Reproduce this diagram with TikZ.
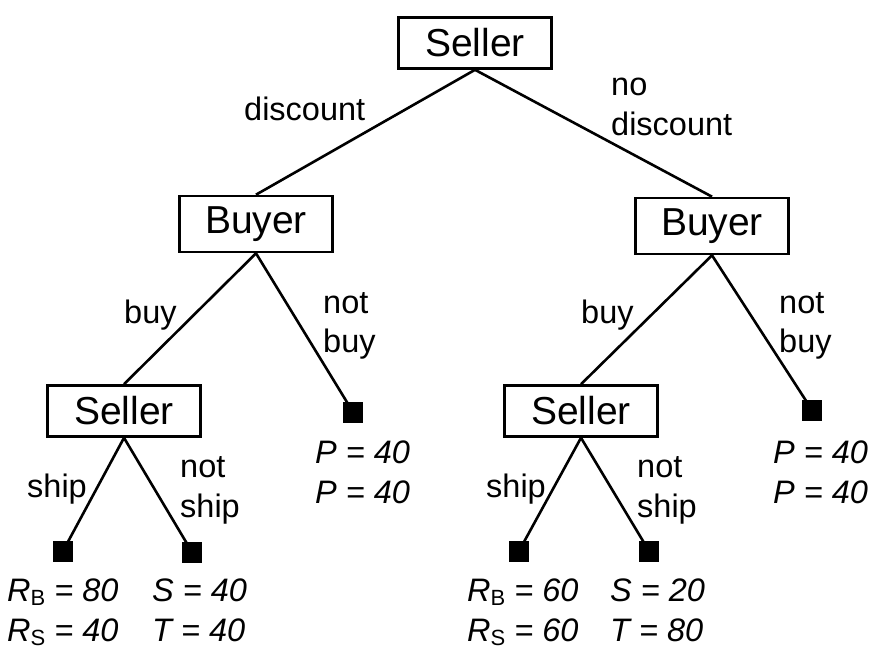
\documentclass[tikz,border=0pt]{standalone}
\usepackage{fontspec}
\setmainfont{Liberation Sans}
\newcommand\mysub[1]{{\upshape\fontsize{22}{22}\selectfont\raisebox{-4.5pt}{#1}}}
\begin{document}
\begin{tikzpicture}[x=1pt,y=-1pt,
  box/.style={draw,line width=2.6pt,minimum width=153pt,minimum height=51pt,inner sep=0pt,fill=white,font=\fontsize{39}{39}\selectfont},
  leaf/.style={fill=black,minimum width=20pt,minimum height=21pt,inner sep=0pt},
  lab/.style={font=\fontsize{32.5}{40}\selectfont,inner sep=0pt,anchor=base west},
  pay/.style={font=\fontsize{32.5}{41}\selectfont\itshape,inner sep=0pt,anchor=base west},
  edge/.style={line width=2.6pt}]
\useasboundingbox (0,0) rectangle (872,651);
% decision nodes
\node[box] (s0) at (475,43) {Seller};
\node[box,minimum height=56pt] (b1) at (256,224) {Buyer};
\node[box,minimum height=56pt] (b2) at (712,226) {Buyer};
\node[box] (s1) at (124,411) {Seller};
\node[box] (s2) at (581,411) {Seller};
% leaf positions
\coordinate (l1) at (63,551);
\coordinate (l2) at (192,552);
\coordinate (l3) at (353,412);
\coordinate (l4) at (519,551);
\coordinate (l5) at (649,551);
\coordinate (l6) at (812,410);
% edges
\draw[edge] (s0.south) -- (b1.north);
\draw[edge] (s0.south) -- (b2.north);
\draw[edge] (b1.south) -- (s1.north);
\draw[edge] (b1.south) -- (l3);
\draw[edge] (b2.south) -- (s2.north);
\draw[edge] (b2.south) -- (l6);
\draw[edge] (s1.south) -- (l1);
\draw[edge] (s1.south) -- (l2);
\draw[edge] (s2.south) -- (l4);
\draw[edge] (s2.south) -- (l5);
% leaves on top
\foreach \n in {l1,l2,l3,l4,l5,l6}
  \node[leaf] (\n box) at (\n) {};
% edge labels
\node[lab] (t1) at (244,120) {discount};
\node[lab] (t2a) at (611,95) {no};
\node[lab] (t2b) at (611,135) {discount};
\node[lab] (t3) at (124,323) {buy};
\node[lab] (t4a) at (323,313) {not};
\node[lab] (t4b) at (323,352) {buy};
\node[lab] (t5) at (581,323) {buy};
\node[lab] (t6a) at (779,313) {not};
\node[lab] (t6b) at (779,352) {buy};
\node[lab] (t7) at (27,497) {ship};
\node[lab] (t8a) at (180,477) {not};
\node[lab] (t8b) at (180,517) {ship};
\node[lab] (t9) at (486,497) {ship};
\node[lab] (t10a) at (637,477) {not};
\node[lab] (t10b) at (637,517) {ship};
% payoffs
\node[pay] (p1a) at (7,601) {R\mysub{B} = 80};
\node[pay] (p1b) at (7,641) {R\mysub{S} = 40};
\node[pay] (p2a) at (152,601) {S = 40};
\node[pay] (p2b) at (152,641) {T = 40};
\node[pay] (p3a) at (315,463) {P = 40};
\node[pay] (p3b) at (315,503) {P = 40};
\node[pay] (p4a) at (467,601) {R\mysub{B} = 60};
\node[pay] (p4b) at (467,641) {R\mysub{S} = 60};
\node[pay] (p5a) at (610,601) {S = 20};
\node[pay] (p5b) at (610,641) {T = 80};
\node[pay] (p6a) at (773,463) {P = 40};
\node[pay] (p6b) at (773,503) {P = 40};
\end{tikzpicture}
\end{document}
